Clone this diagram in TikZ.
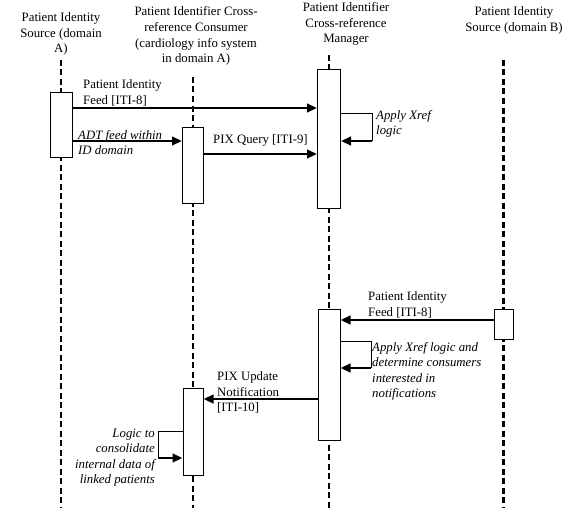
\documentclass[tikz,border=0pt]{standalone}
\usepackage{fontspec}
\setmainfont{Liberation Serif}
\usetikzlibrary{arrows.meta}
\begin{document}
\begin{tikzpicture}[x=1pt,y=-1pt,
  lifeline/.style={dash pattern=on 6pt off 3.5pt, line width=2.1pt},
  actbox/.style={draw, fill=white, line width=1pt, inner sep=0pt, anchor=north},
  msg/.style={line width=2.9pt, -{Triangle[length=10pt,width=8.5pt]}},
  loopline/.style={line width=1pt},
  lbl/.style={font=\fontsize{12.8}{15.5}\selectfont, inner sep=0pt, align=left, anchor=west},
  ilbl/.style={lbl, font=\fontsize{12.8}{15.5}\selectfont\itshape},
  title/.style={font=\fontsize{12.8}{15.8}\selectfont, inner sep=0pt, align=center}]
\useasboundingbox (0,0) rectangle (585,508);

% titles
\node[title] (tA) at (61,34) {Patient Identity\\Source (domain\\A)};
\node[title] (tC) at (196,36) {Patient Identifier Cross-\\reference Consumer\\(cardiology info system\\in domain A)};
\node[title] (tM) at (346,24) {Patient Identifier\\Cross-reference\\Manager};
\node[title] (tB) at (514,20.5) {Patient Identity\\Source (domain B)};

% lifeline ends
\coordinate (lAt) at (61,60);   \coordinate (lAb) at (61,508);
\coordinate (lCt) at (193,77);  \coordinate (lCb) at (193,508);
\coordinate (lMt) at (329,55);  \coordinate (lMb) at (329,508);
\coordinate (lBt) at (503.5,60); \coordinate (lBb) at (503.5,508);
\draw[lifeline] (lAt) -- (lAb);
\draw[lifeline] (lCt) -- (lCb);
\draw[lifeline] (lMt) -- (lMb);
\draw[lifeline] (lBt) -- (lBb);

% activation boxes
\node[actbox, minimum width=22pt, minimum height=65pt] (a1) at (61,92) {};
\node[actbox, minimum width=21pt, minimum height=76pt] (c1) at (193,127) {};
\node[actbox, minimum width=23pt, minimum height=139pt] (m1) at (329,69) {};
\node[actbox, minimum width=19pt, minimum height=30pt] (b1) at (503.5,309) {};
\node[actbox, minimum width=22pt, minimum height=131pt] (m2) at (329,309) {};
\node[actbox, minimum width=20pt, minimum height=87pt] (c2) at (193,388) {};

% message levels
\coordinate (y1) at (0,108);
\coordinate (y2) at (0,141);
\coordinate (y3) at (0,154);
\coordinate (y5) at (0,320);
\coordinate (y7) at (0,399);

% messages
\draw[msg] (a1.east |- y1) -- (m1.west |- y1);
\node[lbl] (l1) at (83,93) {Patient Identity\\Feed [ITI-8]};

\draw[msg] (a1.east |- y2) -- (c1.west |- y2);
\node[ilbl] (l2) at (78,142.5) {ADT feed within\\ID domain};

\draw[msg] (c1.east |- y3) -- (m1.west |- y3);
\node[lbl] (l3) at (213,140) {PIX Query [ITI-9]};

% self loop 1
\coordinate (s1t) at (0,113);
\coordinate (s1r) at (372,113);
\coordinate (s1b) at (0,141);
\draw[loopline] (m1.east |- s1t) -- (s1r) -- (s1r |- s1b);
\draw[msg] (s1r |- s1b) -- (m1.east |- s1b);
\node[ilbl] (l4) at (376,124) {Apply Xref\\logic};

\draw[msg] (b1.west |- y5) -- (m2.east |- y5);
\node[lbl] (l5) at (368,305) {Patient Identity\\Feed [ITI-8]};

% self loop 2
\coordinate (s2t) at (0,341);
\coordinate (s2r) at (371,341);
\coordinate (s2b) at (0,368);
\draw[loopline] (m2.east |- s2t) -- (s2r) -- (s2r |- s2b);
\draw[msg] (s2r |- s2b) -- (m2.east |- s2b);
\node[ilbl] (l6) at (372,371.5) {Apply Xref logic and\\determine consumers\\interested in\\notifications};

\draw[msg] (m2.west |- y7) -- (c2.east |- y7);
\node[lbl] (l7) at (217,392.5) {PIX Update\\Notification\\{[ITI-10]}};

% self loop 3
\coordinate (s3t) at (0,431);
\coordinate (s3l) at (158,431);
\coordinate (s3b) at (0,458);
\draw[loopline] (c2.west |- s3t) -- (s3l) -- (s3l |- s3b);
\draw[msg] (s3l |- s3b) -- (c2.west |- s3b);
\node[ilbl, align=right, anchor=east] (l8) at (155,457.5) {Logic to\\consolidate\\internal data of\\linked patients};
\end{tikzpicture}
\end{document}
